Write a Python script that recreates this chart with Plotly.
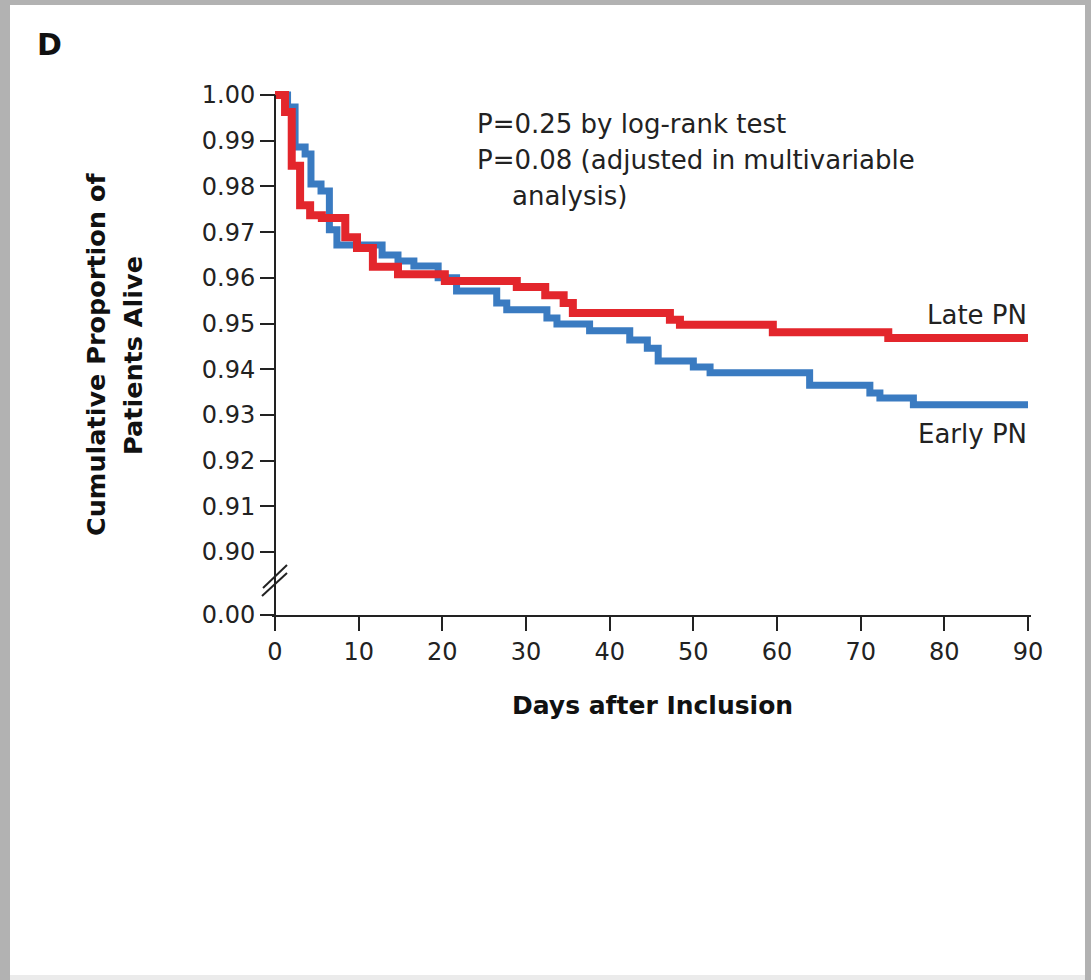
import plotly.graph_objects as go

# ---------------- data ----------------
days_late = [0, 1.2, 2.0, 3.0, 4.2, 5.6, 8.4, 9.8, 11.7, 14.7, 20.3, 28.9, 32.3,
             34.5, 35.6, 47.2, 48.4, 59.5, 73.3, 90]
surv_late = [1.000, 0.9963, 0.9845, 0.9759, 0.9737, 0.9731, 0.9689, 0.9665, 0.9624,
             0.9608, 0.9593, 0.9580, 0.9562, 0.9545, 0.9523, 0.9508, 0.9497, 0.9481,
             0.9468, 0.9468]

days_early = [0, 1.5, 2.4, 3.6, 4.3, 5.5, 6.5, 7.4, 12.8, 14.7, 16.6, 19.5, 21.7,
              26.5, 27.7, 32.5, 33.7, 37.6, 42.4, 44.5, 45.8, 50.0, 52.0, 63.9,
              71.1, 72.3, 76.3, 90]
surv_early = [1.000, 0.9974, 0.9886, 0.9871, 0.9805, 0.9790, 0.9705, 0.9672, 0.9650,
              0.9637, 0.9626, 0.9600, 0.9571, 0.9545, 0.9530, 0.9512, 0.9499, 0.9484,
              0.9464, 0.9446, 0.9418, 0.9405, 0.9392, 0.9365, 0.9348, 0.9337, 0.9322,
              0.9322]

x_ticks = [0, 10, 20, 30, 40, 50, 60, 70, 80, 90]
x_tick_labels = ["0", "10", "20", "30", "40", "50", "60", "70", "80", "90"]
y_ticks_main = [0.90, 0.91, 0.92, 0.93, 0.94, 0.95, 0.96, 0.97, 0.98, 0.99, 1.00]
y_tick_labels_main = ["0.90", "0.91", "0.92", "0.93", "0.94", "0.95", "0.96",
                      "0.97", "0.98", "0.99", "1.00"]
zero_label = "0.00"

# ---------------- layout geometry ----------------
W, H = 1091, 980
ML, MR, MT, MB = 272, 60, 88, 365
PW, PH = W - ML - MR, H - MT - MB
PX_PER_UNIT = 4570.0            # pixels per unit of survival
Y_TOP = 1.0 + 7 / PX_PER_UNIT
Y_BOT = Y_TOP - PH / PX_PER_UNIT
ZERO_POS = Y_BOT + 0.00002      # where the broken axis shows "0.00"
X_LO, X_HI = -0.3586, 90.3586

def pxx(px):
    return (px - ML) / PW

def pxy(py):
    return (H - MB - py) / PH

RED = "#E3262C"
BLUE = "#3A7BC1"
INK = "#222222"
FONT = "DejaVu Sans"

fig = go.Figure()
fig.add_trace(go.Scatter(x=days_early, y=surv_early, mode="lines", line_shape="hv",
                         line=dict(color=BLUE, width=7), name="Early PN",
                         showlegend=False, hoverinfo="skip"))
fig.add_trace(go.Scatter(x=days_late, y=surv_late, mode="lines", line_shape="hv",
                         line=dict(color=RED, width=8), name="Late PN",
                         showlegend=False, hoverinfo="skip"))

shapes = [
    # gray frame / white card
    dict(type="rect", xref="paper", yref="paper", x0=pxx(10), x1=pxx(1085),
         y0=pxy(975), y1=pxy(5), fillcolor="white", line_width=0, layer="below"),
    dict(type="rect", xref="paper", yref="paper", x0=pxx(10), x1=pxx(1085),
         y0=pxy(980), y1=pxy(975), fillcolor="#ebebeb", line_width=0, layer="below"),
    # y axis line (from the 0.00 position up to 1.00)
    dict(type="line", xref="x", yref="y", x0=0, x1=0, y0=ZERO_POS, y1=1.0,
         line=dict(color=INK, width=2)),
    # axis break marks
    dict(type="line", xref="paper", yref="paper", x0=pxx(263), x1=pxx(287),
         y0=pxy(588), y1=pxy(565), line=dict(color=INK, width=2)),
    dict(type="line", xref="paper", yref="paper", x0=pxx(262), x1=pxx(287),
         y0=pxy(596), y1=pxy(573), line=dict(color=INK, width=2)),
]

annotations = [
    dict(text="<b>D</b>", x=pxx(49), y=pxy(44), font=dict(size=30, color="#111111")),
    dict(text="P=0.25 by log-rank test", x=pxx(475), y=pxy(124), xanchor="left",
         font=dict(size=26, color=INK)),
    dict(text="P=0.08 (adjusted in multivariable", x=pxx(475), y=pxy(160), xanchor="left",
         font=dict(size=26, color=INK)),
    dict(text="analysis)", x=pxx(510), y=pxy(196), xanchor="left",
         font=dict(size=26, color=INK)),
    dict(text="Late PN", x=pxx(1029), y=pxy(315), xanchor="right",
         font=dict(size=26, color=INK)),
    dict(text="Early PN", x=pxx(1029), y=pxy(434), xanchor="right",
         font=dict(size=26, color=INK)),
    dict(text="<b>Cumulative Proportion of</b>", x=pxx(96), y=pxy(355), textangle=-90,
         font=dict(size=25.5, color="#111111")),
    dict(text="<b>Patients Alive</b>", x=pxx(133), y=pxy(356), textangle=-90,
         font=dict(size=25.5, color="#111111")),
    dict(text="<b>Days after Inclusion</b>", x=pxx(652), y=pxy(705),
         font=dict(size=25, color="#111111")),
]
for a in annotations:
    a.update(xref="paper", yref="paper", showarrow=False)
    a.setdefault("xanchor", "center")
    a.setdefault("yanchor", "middle")

fig.update_layout(
    width=W, height=H,
    margin=dict(l=ML, r=MR, t=MT, b=MB, pad=0),
    paper_bgcolor="#b2b2b2", plot_bgcolor="white",
    font=dict(family=FONT, color=INK),
    shapes=shapes, annotations=annotations,
    xaxis=dict(range=[X_LO, X_HI], tickvals=x_ticks, ticktext=x_tick_labels,
               ticks="outside", ticklen=14, tickwidth=2, tickcolor=INK,
               showline=True, linecolor=INK, linewidth=2, showgrid=False,
               zeroline=False, tickfont=dict(family=FONT, size=24, color=INK),
               fixedrange=True),
    yaxis=dict(range=[Y_BOT, Y_TOP], anchor="free", position=(0 - X_LO) / (X_HI - X_LO),
               tickvals=[ZERO_POS] + y_ticks_main,
               ticktext=[zero_label] + y_tick_labels_main,
               ticks="outside", ticklen=15, tickwidth=2, tickcolor=INK,
               showline=False, showgrid=False, zeroline=False,
               tickfont=dict(family=FONT, size=24, color=INK), fixedrange=True),
)

fig.write_html("out.html")
